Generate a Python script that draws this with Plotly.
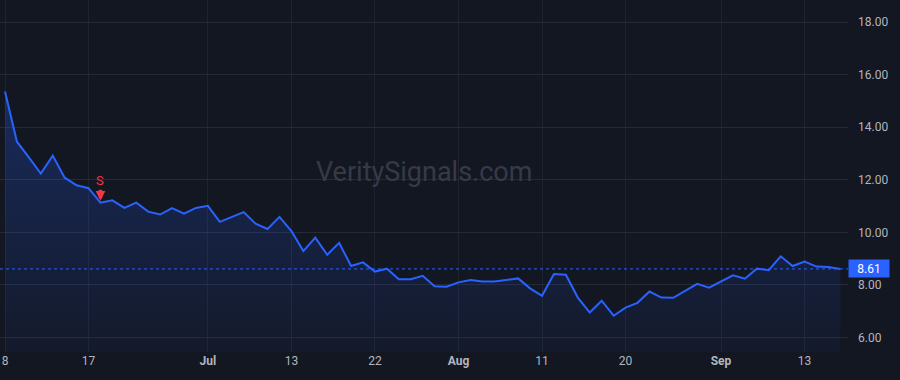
import pandas as pd
import plotly.graph_objects as go

# ---- data ----
holidays = ["2021-07-05", "2021-09-06"]
dates = [d.strftime("%Y-%m-%d") for d in pd.bdate_range("2021-06-08", "2021-09-16")
         if d.strftime("%Y-%m-%d") not in holidays]

prices = [15.36, 13.45, 12.85, 12.24, 12.92, 12.08, 11.79, 11.68, 11.13, 11.22,
          10.93, 11.13, 10.79, 10.68, 10.92, 10.71, 10.93, 11.01, 10.40, 10.59,
          10.77, 10.33, 10.13, 10.59, 10.05, 9.29, 9.80, 9.15, 9.60, 8.72,
          8.86, 8.51, 8.62, 8.22, 8.22, 8.35, 7.95, 7.93, 8.10, 8.19,
          8.13, 8.13, 8.18, 8.25, 7.87, 7.59, 8.42, 8.39, 7.52, 6.95,
          7.40, 6.83, 7.14, 7.32, 7.75, 7.52, 7.51, 7.77, 8.04, 7.90,
          8.15, 8.37, 8.24, 8.62, 8.56, 9.09, 8.72, 8.89, 8.70, 8.68,
          8.61]

x_tick_dates = ["2021-06-08", "2021-06-17", "2021-07-01", "2021-07-13", "2021-07-22",
                "2021-08-02", "2021-08-11", "2021-08-20", "2021-09-01", "2021-09-13"]
x_tick_labels = ["8", "17", "<b>Jul</b>", "13", "22", "<b>Aug</b>", "11", "20", "<b>Sep</b>", "13"]

y_tick_vals = [6, 8, 10, 12, 14, 16, 18]
y_tick_labels = ["6.00", "8.00", "10.00", "12.00", "14.00", "16.00", "18.00"]

signal_date = "2021-06-18"
signal_label = "S"
last_price = prices[-1]
watermark = "VeritySignals.com"

# ---- styles ----
BG = "#131722"
LINE = "#2962FF"
TXT = "#B2B5BE"
FONT = "Roboto"
y_range = [5.45, 18.84]

x_index = list(range(len(dates)))
tick_idx = [dates.index(d) for d in x_tick_dates]
sig_idx = dates.index(signal_date)

fig = go.Figure()
fig.add_trace(go.Scatter(
    x=x_index, y=prices, mode="lines",
    line=dict(color=LINE, width=2),
    fill="tozeroy",
    fillgradient=dict(type="vertical",
                      colorscale=[[0, "rgba(41,98,255,0.04)"], [1, "rgba(41,98,255,0.26)"]],
                      start=y_range[0], stop=max(prices)),
    hoverinfo="skip",
))

fig.add_shape(type="line", xref="paper", x0=0, x1=1, yref="y", y0=last_price, y1=last_price,
              line=dict(color=LINE, width=1, dash="dot"))

fig.add_annotation(x=sig_idx, y=prices[sig_idx], text=signal_label, showarrow=True,
                   ax=0, ay=-22, arrowcolor="#F23645", arrowwidth=3.5, arrowhead=2,
                   arrowsize=0.55, standoff=2,
                   font=dict(family=FONT, size=13, color="#F23645"))

fig.add_annotation(xref="paper", x=1, xanchor="left", y=last_price, yanchor="middle",
                   text=f"{last_price:.2f}", showarrow=False, bgcolor=LINE,
                   width=38, height=15, borderpad=1, align="center",
                   font=dict(family=FONT, size=12, color="#FFFFFF"))

fig.add_annotation(xref="paper", yref="paper", x=0.5, y=0.511, text=watermark,
                   showarrow=False, font=dict(family=FONT, size=27, color="#363a45"))

fig.update_layout(
    width=900, height=380,
    margin=dict(l=0, r=52, t=0, b=28),
    paper_bgcolor=BG, plot_bgcolor=BG,
    showlegend=False,
    font=dict(family=FONT, size=12, color=TXT),
    xaxis=dict(range=[-0.419, 70.64], tickvals=tick_idx, ticktext=x_tick_labels,
               showgrid=True, gridcolor="#1f2330", zeroline=False, showline=False,
               ticks="", fixedrange=True),
    yaxis=dict(range=y_range, side="right", tickvals=y_tick_vals, ticktext=y_tick_labels,
               showgrid=True, gridcolor="#262a36", zeroline=False, showline=False,
               ticks="", ticklabelstandoff=9, fixedrange=True),
)

fig.write_html("out.html")
